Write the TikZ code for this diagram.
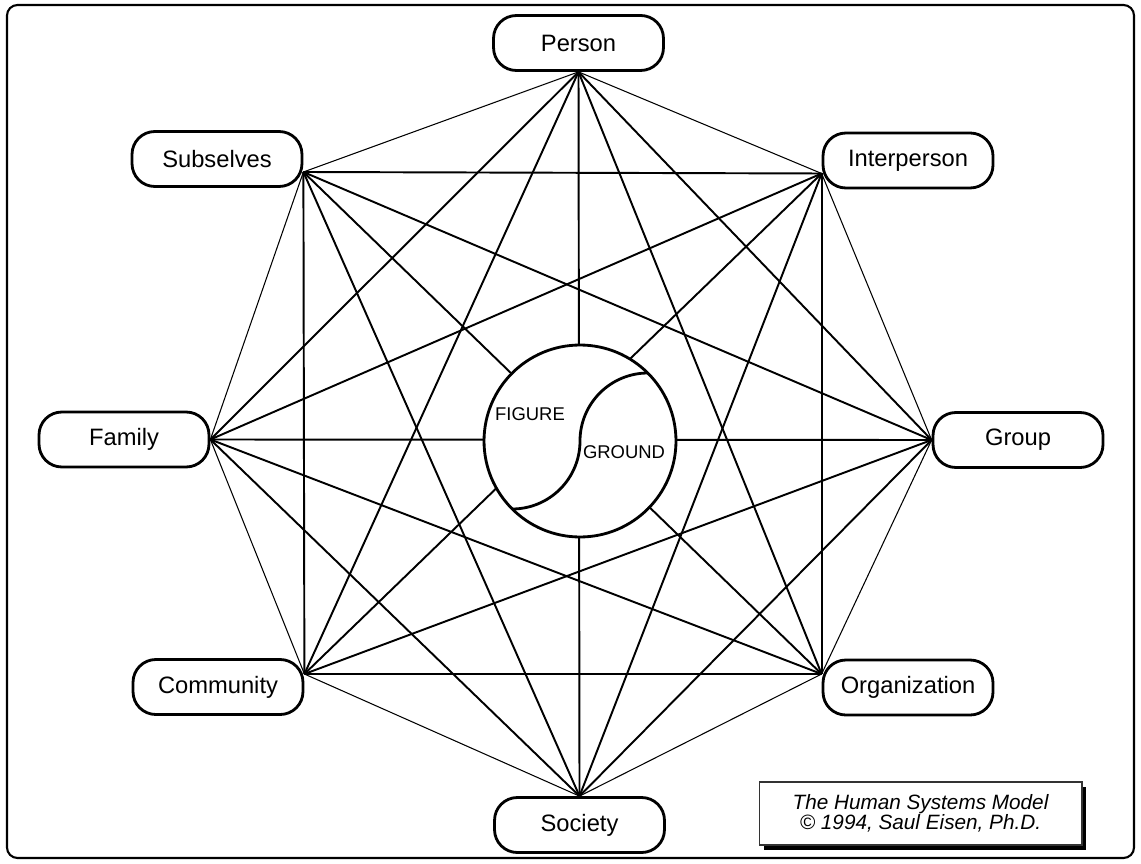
\documentclass[tikz,border=0pt]{standalone}
\usepackage{fontspec}
\setmainfont{Liberation Sans}
\usepackage{tikz}
\usetikzlibrary{shadows}

\begin{document}
\begin{tikzpicture}
	 [x=0.02cm,y=0.02cm,
	  box/.style={draw,fill=white,line width=1.6pt,rounded corners=13pt,minimum width=3.4cm,minimum height=1.1cm,inner sep=0pt,font=\fontsize{13.5}{15}\selectfont},
	  side/.style={line width=0.6pt},
	  chord/.style={line width=1.1pt},
	  inlabel/.style={inner sep=0pt,font=\fontsize{10.5}{12}\selectfont},
	  credit/.style={draw=black!80,fill=white,line width=0.6pt,minimum width=6.46cm,minimum height=1.26cm,inner sep=0pt,align=center,font=\itshape\fontsize{11.8}{11.6}\selectfont,drop shadow={shadow xshift=0.09cm,shadow yshift=-0.09cm,fill=black,opacity=1}}]
	\useasboundingbox (0,0) rectangle (1141,863);
	\draw[line width=1.2pt,rounded corners=6pt] (7,5) rectangle (1134,858);

	\node[box] (per) at (578.5,820) {Person};
	  \node[box] (inter) at (908,702.5) {Interperson};
	  \node[box] (grp) at (1018,423) {Group};
	  \node[box] (org) at (908,175.5) {Organization};
	  \node[box] (soc) at (579.5,38) {Society};
	  \node[box] (comm) at (218,176) {Community};
	  \node[box] (fam) at (124,423.5) {Family};
	  \node[box] (sub) at (217,704) {Subselves};

	\coordinate (a1) at (per.south);
	\coordinate (a2) at ([yshift=-0.26cm]inter.west);
	\coordinate (a3) at (grp.west);
	\coordinate (a4) at ([yshift=0.27cm]org.west);
	\coordinate (a5) at (soc.north);
	\coordinate (a6) at ([yshift=0.26cm]comm.east);
	\coordinate (a7) at (fam.east);
	\coordinate (a8) at ([yshift=-0.26cm]sub.east);

	\foreach \from/\to in {a1/a2,a2/a3,a3/a4,a4/a5,a5/a6,a6/a7,a7/a8,a8/a1}
    \draw[side] (\from) -- (\to);

	\foreach \from/\to in {a1/a3,a1/a4,a1/a5,a1/a6,a1/a7,a2/a4,a2/a5,a2/a6,a2/a7,a2/a8,a3/a5,a3/a6,a3/a7,a3/a8,a4/a6,a4/a7,a4/a8,a5/a7,a5/a8,a6/a8}
    \draw[chord] (\from) -- (\to);

	\node[circle,draw,fill=white,line width=1.6pt,minimum size=3.84cm,inner sep=0pt] (fg) at (580,422) {};
	\draw[line width=1.6pt] (fg.center) ++(68,68) arc[start angle=90,end angle=180,radius=68]
	  arc[start angle=0,end angle=-90,radius=68];

	\node[inlabel] (fig) at (530,449) {FIGURE};
	\node[inlabel] (gnd) at (624,411) {GROUND};

	\node[credit] (cr) at (920.5,49.5) {The Human Systems Model\\© 1994, Saul Eisen, Ph.D.};

\end{tikzpicture}
\end{document}
